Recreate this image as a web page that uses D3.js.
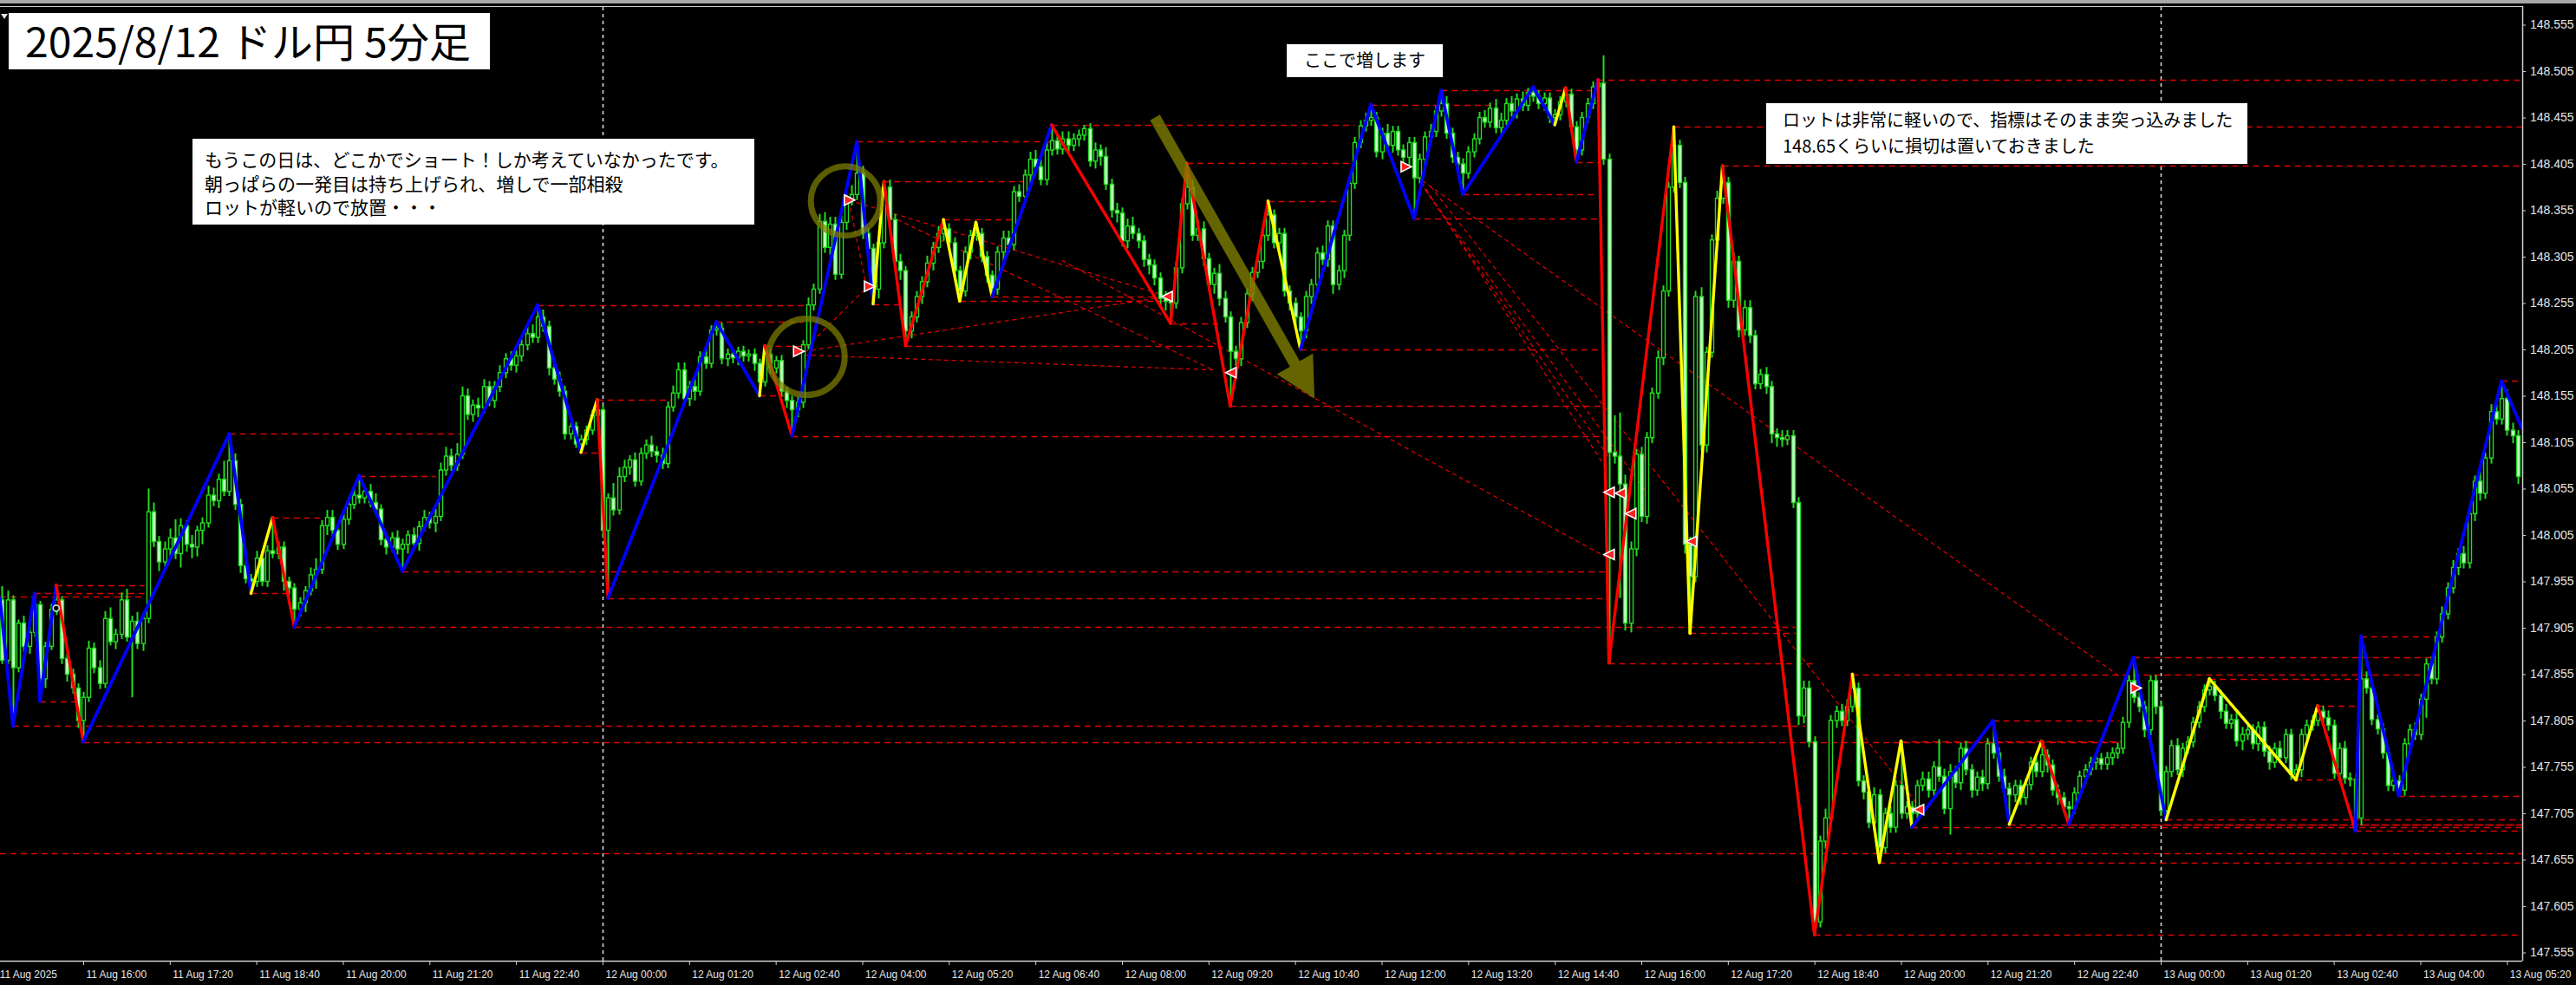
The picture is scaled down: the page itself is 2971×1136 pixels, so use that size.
<!DOCTYPE html>
<html><head><meta charset="utf-8">
<script src="https://cdn.jsdelivr.net/npm/d3@7"></script>
<style>html,body{margin:0;padding:0;background:#000;overflow:hidden}</style>
</head><body>
<svg id="c" width="2971" height="1136"></svg>
<script>
// ---------------- DATA (prices are thousandths above 147.000) ----------------
const BASE = 147.0;
const firstBar = -111;          // bar 0 = 12 Aug 00:00 (5-minute bars)
const firstOpen = 935;
const closes = [
870,935,862,910,885,900,930,850,885,925,
935,872,855,840,805,830,883,862,845,915,
890,898,935,895,912,888,915,1030,998,976,
990,1002,985,1015,995,992,1010,1018,1048,1042,
1065,1052,1085,1038,972,958,955,980,955,988,
985,992,955,948,925,932,945,962,968,1015,
1024,1010,995,1022,1038,1048,1045,1052,1040,1033,
1000,992,1002,990,995,1005,996,1014,1024,1018,
1025,1075,1090,1080,1092,1155,1135,1145,1142,1165,
1150,1165,1180,1195,1188,1198,1210,1222,1218,1240,
1230,1185,1173,1160,1114,1122,1103,1108,1118,1134,
1140,1010,1045,1032,1068,1078,1086,1063,1093,1102,
1095,1091,1082,1143,1158,1183,1152,1165,1160,1197,
1190,1226,1228,1195,1200,1196,1203,1198,1200,1190,
1170,1200,1185,1193,1160,1150,1140,1148,1210,1253,
1270,1343,1315,1340,1286,1342,1366,1372,1395,1330,
1314,1270,1320,1380,1345,1300,1290,1225,1240,1262,
1278,1298,1315,1330,1335,1320,1290,1268,1310,1328,
1330,1305,1285,1270,1310,1325,1318,1375,1370,1393,
1410,1402,1388,1420,1430,1421,1432,1425,1432,1436,
1443,1408,1420,1413,1383,1355,1352,1322,1338,1330,
1322,1302,1296,1282,1260,1257,1255,1293,1362,1380,
1328,1335,1303,1275,1287,1260,1240,1203,1195,1234,
1265,1288,1300,1328,1350,1320,1330,1268,1255,1240,
1225,1262,1275,1309,1302,1338,1275,1290,1328,1384,
1428,1446,1452,1455,1418,1438,1425,1440,1420,1412,
1428,1390,1410,1434,1440,1462,1470,1438,1412,1405,
1395,1418,1432,1455,1450,1465,1444,1452,1470,1462,
1475,1468,1482,1478,1470,1476,1455,1458,1472,1480,
1445,1420,1455,1470,1488,1492,1410,1094,1090,1060,
910,990,1092,1025,1110,1158,1196,1268,1380,1425,
1385,995,960,1262,1102,1202,1323,1368,1385,1258,
1300,1226,1250,1220,1168,1178,1165,1114,1110,1108,
1112,1040,810,840,782,588,675,700,805,815,
805,820,840,740,728,695,725,668,705,690,
735,705,712,705,735,742,730,755,745,710,
750,738,775,752,730,744,737,780,770,745,
732,725,735,722,736,760,750,768,757,730,
722,712,710,727,745,752,760,764,758,765,
770,775,803,848,830,820,795,848,820,708,
750,778,752,775,782,803,820,838,842,832,
815,802,806,783,790,795,780,798,772,760,
775,765,790,747,752,790,800,805,815,808,
800,748,775,743,742,700,850,840,806,796,
770,735,740,730,780,795,790,828,866,850,
895,920,948,970,985,975,1028,1063,1050,1088,
1138,1130,1152,1118,1112,1068];
const upWick = [
15,10,5,4,8,6,12,4,5,6, 16,4,5,6,5,6,8,6,8,8, 12,6,8,12,6,10,6,25,10,6, 8,10,20,8,6,10,5,6,10,8,
6,20,29,8,6,6,5,8,8,6, 36,6,6,5,5,6,5,8,12,6, 8,8,6,6,8,8,21,6,8,10, 5,6,6,8,6,5,8,6,8,6,
8,8,10,8,12,10,8,6,8,8, 6,6,8,6,8,6,6,8,10,13, 8,6,6,8,6,4,5,5,5,6, 11,5,5,16,10,8,5,8,6,6,
10,6,8,6,8,8,8,6,8,6, 10,5,7,6,6,6,5,6,5,6, 5,9,6,5,6,5,5,6,5,8, 6,8,10,8,8,8,6,10,34,8,
6,5,6,6,8,6,8,5,6,6, 6,8,6,8,10,6,6,5,6,6, 12,6,6,5,6,8,8,6,8,6, 8,10,8,8,17,6,8,8,6,6,
4,6,8,6,10,6,8,6,8,10, 6,6,6,6,6,8,6,6,6,26, 8,10,8,6,6,10,8,6,6,6, 6,6,6,6,15,6,6,6,6,6,
5,6,6,6,8,6,6,6,6,6, 6,6,8,14,6,6,10,6,6,6, 6,6,6,6,8,6,14,8,6,6, 6,6,6,6,8,6,10,8,6,8,
6,8,5,6,6,6,6,6,6,7, 6,6,6,6,6,4,30,6,40,47, 10,8,6,8,6,6,8,6,6,20, 6,6,8,6,10,6,6,8,18,6,
10,6,8,8,6,6,8,6,6,8, 6,6,6,8,8,6,6,10,6,6, 8,8,15,6,6,6,8,6,6,8, 6,48,6,6,6,8,8,6,30,8,
8,6,6,8,6,6,8,6,25,6, 8,6,6,6,6,6,8,15,6,6, 6,6,6,6,6,6,6,6,6,6, 6,6,6,6,25,6,6,6,6,6,
6,6,8,6,6,6,6,6,8,6, 6,8,6,8,8,6,6,6,6,6, 6,8,6,6,6,6,6,6,6,6, 8,6,6,8,6,6,46,8,6,6,
6,6,8,6,6,6,8,6,6,8, 6,8,6,8,6,8,6,6,10,6, 8,8,19,10,8,6];
const dnWick = [
4,4,63,5,6,8,5,24,10,4, 6,6,8,6,8,23,5,6,6,5, 4,8,5,5,65,6,8,5,6,10, 5,8,6,15,8,12,10,15,5,6,
8,5,5,6,8,5,13,6,5,6, 5,6,10,8,19,8,10,5,15,5, 10,8,6,5,6,5,6,6,5,6, 6,8,5,6,24,10,6,8,5,6,
10,5,6,6,6,5,6,8,10,6, 6,8,6,6,6,8,6,6,6,6, 6,8,6,6,6,6,4,9,6,5, 6,8,73,6,5,6,8,6,5,6,
6,8,6,5,5,6,6,8,10,5, 6,5,6,6,8,6,8,6,6,8, 15,5,6,6,6,8,28,8,6,5, 6,5,6,8,6,5,8,6,6,6,
8,16,10,6,6,8,10,16,8,6, 8,6,8,6,8,6,8,11,6,8, 6,6,8,8,6,10,8,6,6,6, 10,6,6,6,6,6,6,8,6,8,
6,6,8,10,6,8,10,6,8,6, 8,8,10,8,8,10,22,6,6,6, 6,6,8,6,10,8,6,59,8,8, 6,8,6,8,6,6,8,6,8,10,
20,8,8,6,6,8,10,6,8,6, 6,6,6,6,6,8,6,8,6,8, 8,44,6,6,6,6,6,6,6,8, 23,6,6,6,6,6,6,6,6,6,
8,6,6,6,6,8,6,8,6,6, 6,13,6,6,6,6,6,227,8,123, 8,10,8,6,8,6,6,8,6,6, 6,10,61,6,6,8,6,6,6,8,
8,8,6,8,6,6,8,10,10,8, 6,6,10,8,6,14,6,8,6,8, 6,6,6,6,8,6,8,16,6,6, 6,6,6,15,6,6,8,6,6,6,
28,6,8,6,8,6,8,6,6,6, 6,32,8,8,8,6,6,6,8,6, 8,6,17,6,6,8,6,8,6,6, 8,6,6,6,6,6,8,6,8,6,
10,6,6,8,6,6,6,6,6,6, 8,6,6,6,10,6,6,8,6,8, 6,6,6,6,6,8,6,6,6,6, 6,6,8,6,8,14,8,6,6,6,
6,6,6,6,6,8,6,6,20,6, 6,6,6,6,8,6,6,8,8,6, 6,6,6,6,8,8];

// zigzag pivots (bar, price) and colour class of each leg ending at that pivot
const zzBars = [-111.4,-109,-105,-104,-101,-96,-69,-65,-61,-57,-45,-37,-12,-4,-1,1,21,29,30,35,47,50,52,56,63,66,69,72,83,105,108,116,123,129,142,150,155,159,172,176,178,180,184,186,198,201,207,224,231,236,240,242,257,260,266,271,283,289,297,313,317,324,325,332,351,354.8];
const zzPrices = [937,799,942,826,951,782,1114,942,1024,906,1069,966,1253,1094,1151,937,1235,1155,1209,1112,1429,1254,1386,1209,1345,1257,1342,1262,1447,1233,1406,1144,1365,1205,1469,1346,1484,1372,1488,1447,1487,1407,1496,867,1445,899,1403,574,855,652,783,690,805,693,783,693,873,698,850,741,821,686,896,724,1171,1120];
const zzLegs = ["B","B","B","B","R","B","B","Y","R","B","B","B","B","Y","R","B","B","Y","R","B","B","Y","R","R","Y","Y","Y","B","R","R","R","R","Y","B","B","B","B","B","B","Y","R","B","R","R","Y","Y","R","R","Y","Y","Y","B","B","Y","R","B","B","Y","Y","Y","R","B","B","B","B"];

// horizontal dashed price levels
const levelPrices = [939,662,799,942,826,951,782,1114,942,1024,906,1069,966,1253,1094,1151,937,1235,1155,1209,1112,1429,1254,1386,1209,1345,1257,1262,1447,1233,1406,1144,1365,1205,1469,1346,1484,1372,1407,1496,867,1445,899,1403,574,855,652,783,690,805,693,693,873,698,850,741,821,686,896,724,1171];
const levelFrom   = [-111.4,-111.4,-109,-105,-104,-101,-96,-69,-65,-61,-57,-45,-37,-12,-4,-1,1,21,29,30,35,47,50,52,56,63,66,72,83,105,108,116,123,129,142,150,155,159,180,184,186,198,201,207,224,231,236,240,242,257,260,271,283,289,297,313,317,324,325,332,351];
const levelTo     = [-84.7,354.8,222.3,-84.7,-97,-84.7,281,-26,-58,-51.4,220.5,-30.8,185.7,37.2,0,12.7,185.7,37.2,34,39,184.5,83,55,77.7,114,75.8,104.5,104.5,139,114,138.3,184.5,136,184.5,164.3,184,184,184,184.5,354.8,224,354.8,220.5,354.8,354.8,337.2,354.8,281,354.8,280.3,354.8,354.8,338.6,354.8,324.7,324,324,354.8,338.6,354.8,354.8];

// diagonal dashed lines (bar, price) -> (bar, price)
const diagBar1   = [150.3,150.3,151.4,152.2,153,84.9,45.5,51.9,37.2,37.2,39.7,45.5];
const diagPrice1 = [1392,1392,1385,1376,1381,1301,1366,1352,1203,1199,1219,1366];
const diagBar2   = [280.3,186.2,185.7,193.1,243.4,186.2,104.5,112.8,104.5,112.8,48.2,48.9];
const diagPrice2 = [853,1087,1075,1050,712,979,1262,1183,1262,1183,1268,1269];

// trade markers
const markBars   = [36.1,45.5,49.2,104.5,116.3,148.4,186.2,188.3,190.2,186.2,201.4,243.4,283.3,-101];
const markPrices = [1203,1366,1273,1262,1180,1402,1051,1050,1028,984,998,709,840,926];
const markKinds  = ["R","R","R","L","L","R","L","L","L","L","L","L","R","D"];

const separatorBars = [0, 288];
const yTickValues = [147.555,147.605,147.655,147.705,147.755,147.805,147.855,147.905,147.955,148.005,148.055,148.105,148.155,148.205,148.255,148.305,148.355,148.405,148.455,148.505,148.555];
const xTickBars = [-112,-96,-80,-64,-48,-32,-16,0,16,32,48,64,80,96,112,128,144,160,176,192,208,224,240,256,272,288,304,320,336,352];
const xTickLabels = ["11 Aug 2025","11 Aug 16:00","11 Aug 17:20","11 Aug 18:40","11 Aug 20:00","11 Aug 21:20","11 Aug 22:40","12 Aug 00:00","12 Aug 01:20","12 Aug 02:40","12 Aug 04:00","12 Aug 05:20","12 Aug 06:40","12 Aug 08:00","12 Aug 09:20","12 Aug 10:40","12 Aug 12:00","12 Aug 13:20","12 Aug 14:40","12 Aug 16:00","12 Aug 17:20","12 Aug 18:40","12 Aug 20:00","12 Aug 21:20","12 Aug 22:40","13 Aug 00:00","13 Aug 01:20","13 Aug 02:40","13 Aug 04:00","13 Aug 05:20"];

const titleText = "2025/8/12 ドル円 5分足";
const note1 = ["もうこの日は、どこかでショート！しか考えていなかったです。","朝っぱらの一発目は持ち上げられ、増しで一部相殺","ロットが軽いので放置・・・"];
const note2 = "ここで増します";
const note3 = ["ロットは非常に軽いので、指標はそのまま突っ込みました","148.65くらいに損切は置いておきました"];

// ---------------- DRAWING ----------------
const W = 2971, H = 1136, plotRight = 2909, plotTop = 8, plotBottom = 1108;
const P = v => BASE + v / 1000;
const x = d3.scaleLinear().domain([0, 288]).range([695, 2492]);
const y = d3.scaleLinear().domain([147.555, 148.505]).range([1098.5, 82]);
const legColor = {B: "#0000ff", R: "#ff0000", Y: "#ffff00"};
const lime = "#22dc22";

const svg = d3.select("#c");
svg.append("rect").attr("width", W).attr("height", H).attr("fill", "#000");
svg.append("rect").attr("x", 0).attr("y", 0).attr("width", W).attr("height", 4).attr("fill", "#a8a8a8");
svg.append("defs").append("clipPath").attr("id", "plot")
  .append("rect").attr("x", 0).attr("y", plotTop).attr("width", plotRight).attr("height", plotBottom - plotTop);

const g = svg.append("g").attr("clip-path", "url(#plot)");

// period separators
g.selectAll(".sep").data(separatorBars).join("line")
  .attr("x1", d => Math.round(x(d)) + 0.5).attr("x2", d => Math.round(x(d)) + 0.5)
  .attr("y1", plotTop).attr("y2", plotBottom)
  .attr("stroke", "#d8d8d8").attr("stroke-width", 1.6).attr("stroke-dasharray", "4,4");

// horizontal levels
g.selectAll(".lvl").data(levelPrices.map((p, k) => ({p, a: levelFrom[k], b: levelTo[k]}))).join("line")
  .attr("x1", d => x(d.a)).attr("x2", d => x(d.b))
  .attr("y1", d => Math.round(y(P(d.p))) + 0.5).attr("y2", d => Math.round(y(P(d.p))) + 0.5)
  .attr("stroke", "#e00000").attr("stroke-width", 1.6).attr("stroke-dasharray", "7,5");

// diagonal lines
g.selectAll(".dg").data(diagBar1.map((b, k) => ({b1: b, p1: diagPrice1[k], b2: diagBar2[k], p2: diagPrice2[k]}))).join("line")
  .attr("x1", d => x(d.b1)).attr("y1", d => y(P(d.p1)))
  .attr("x2", d => x(d.b2)).attr("y2", d => y(P(d.p2)))
  .attr("stroke", "#d80000").attr("stroke-width", 1.3).attr("stroke-dasharray", "5,4");

// candles
const candles = closes.map((c, k) => {
  const o = k === 0 ? firstOpen : closes[k - 1];
  return {i: firstBar + k, o, c, h: Math.max(o, c) + upWick[k], l: Math.min(o, c) - dnWick[k]};
});
zzBars.forEach((b, j) => {
  if (!Number.isInteger(b)) return;
  const cd = candles[b - firstBar]; if (!cd) return;
  const p = zzPrices[j];
  if (p >= Math.max(cd.o, cd.c)) cd.h = p; else if (p <= Math.min(cd.o, cd.c)) cd.l = p;
});
const cg = g.append("g");
cg.selectAll(".wk").data(candles).join("line")
  .attr("x1", d => Math.round(x(d.i)) + 0.5).attr("x2", d => Math.round(x(d.i)) + 0.5)
  .attr("y1", d => y(P(d.h))).attr("y2", d => y(P(d.l)))
  .attr("stroke", lime).attr("stroke-width", 2);
cg.selectAll(".bd").data(candles).join("rect")
  .attr("x", d => Math.round(x(d.i)) - 1.5).attr("width", 4)
  .attr("y", d => y(P(Math.max(d.o, d.c))))
  .attr("height", d => Math.max(1, Math.abs(y(P(d.o)) - y(P(d.c)))))
  .attr("fill", d => d.c < d.o ? "#ccffcc" : "#000")
  .attr("stroke", lime).attr("stroke-width", 1.4);

// zigzag
const legs = zzLegs.map((k, j) => ({k, b1: zzBars[j], p1: zzPrices[j], b2: zzBars[j + 1], p2: zzPrices[j + 1]}));
g.selectAll(".zz").data(legs).join("line")
  .attr("x1", d => x(d.b1)).attr("y1", d => y(P(d.p1)))
  .attr("x2", d => x(d.b2)).attr("y2", d => y(P(d.p2)))
  .attr("stroke", d => legColor[d.k]).attr("stroke-width", d => d.k === "B" ? 3.8 : 3.4)
  .attr("stroke-linecap", "round");

// markers
const mk = g.selectAll(".mk").data(markBars.map((b, k) => ({b, p: markPrices[k], t: markKinds[k]}))).join("g")
  .attr("transform", d => `translate(${x(d.b)},${y(P(d.p))})`);
mk.filter(d => d.t === "L").append("path").attr("d", "M-7,0L5,-6L5,6Z")
  .attr("fill", "#ff2020").attr("stroke", "#fff").attr("stroke-width", 1.6);
mk.filter(d => d.t === "R").append("path").attr("d", "M7,0L-5,-6L-5,6Z")
  .attr("fill", "#ff2020").attr("stroke", "#fff").attr("stroke-width", 1.6);
mk.filter(d => d.t === "D").append("circle").attr("r", 3.5)
  .attr("fill", "#000").attr("stroke", "#c8ffc8").attr("stroke-width", 1.5);

// olive circles and arrow (semi-transparent olive)
[[44.9, 1365, 40], [37.7, 1197, 44]].forEach(([b, p, r]) => {
  g.append("circle").attr("cx", x(b)).attr("cy", y(P(p))).attr("r", r)
    .attr("fill", "none").attr("stroke", "#808000").attr("stroke-opacity", 0.72).attr("stroke-width", 7);
});
(function () {
  const x1 = x(102.1), y1 = y(P(1455)), x2 = x(131.6), y2 = y(P(1152));
  const dx = x2 - x1, dy = y2 - y1, L = Math.hypot(dx, dy), ux = dx / L, uy = dy / L;
  const hl = 46, hw = 24, bx = x2 - ux * hl, by = y2 - uy * hl, sw = 6.5;
  g.append("path").attr("d",
    `M${x1 - uy * sw},${y1 + ux * sw}L${bx - uy * sw},${by + ux * sw}L${bx - uy * hw},${by + ux * hw}` +
    `L${x2},${y2}L${bx + uy * hw},${by - ux * hw}L${bx + uy * sw},${by - ux * sw}L${x1 + uy * sw},${y1 - ux * sw}Z`)
    .attr("fill", "#808000").attr("fill-opacity", 0.78);
})();

// frame
svg.append("line").attr("x1", 0).attr("x2", plotRight).attr("y1", plotTop - 0.5).attr("y2", plotTop - 0.5).attr("stroke", "#cfcfcf");
svg.append("line").attr("x1", plotRight + 0.5).attr("x2", plotRight + 0.5).attr("y1", plotTop - 1).attr("y2", plotBottom).attr("stroke", "#d0d0d0").attr("stroke-width", 1.5);
svg.append("line").attr("x1", 0).attr("x2", plotRight).attr("y1", plotBottom + 0.5).attr("y2", plotBottom + 0.5).attr("stroke", "#d0d0d0").attr("stroke-width", 1.5);
svg.append("path").attr("d", "M1,16L9,16L5,22Z").attr("fill", "#e0e0e0");

// y axis
const ya = svg.append("g").attr("transform", `translate(${plotRight},0)`)
  .call(d3.axisRight(y).tickValues(yTickValues).tickFormat(d3.format(".3f")).tickSize(4).tickPadding(5));
ya.select(".domain").remove();
ya.selectAll(".tick line").attr("stroke", "#d0d0d0");
ya.selectAll(".tick text").attr("fill", "#e6e6e6").attr("font-family", "Liberation Sans, Arial, sans-serif").attr("font-size", 14);

// x axis
const xa = svg.append("g").attr("transform", `translate(0,${plotBottom})`)
  .call(d3.axisBottom(x).tickValues(xTickBars).tickFormat((d, k) => xTickLabels[k]).tickSize(5).tickPadding(6));
xa.select(".domain").remove();
xa.selectAll(".tick line").attr("stroke", "#d0d0d0");
xa.selectAll(".tick text").attr("fill", "#e6e6e6").attr("text-anchor", "start").attr("dx", 3)
  .attr("font-family", "Liberation Sans, Arial, sans-serif").attr("font-size", 13)
  .each(function () { const w = this.getComputedTextLength(); d3.select(this).attr("textLength", w * 0.92).attr("lengthAdjust", "spacingAndGlyphs"); });

// annotation boxes
const jp = "Noto Sans CJK JP, sans-serif";
svg.append("rect").attr("x", 10).attr("y", 15).attr("width", 555).attr("height", 65).attr("fill", "#fff");
svg.append("text").attr("x", 29).attr("y", 66).attr("font-family", jp).attr("font-size", 47).attr("fill", "#000")
  .attr("textLength", 514).attr("lengthAdjust", "spacingAndGlyphs").text(titleText);

svg.append("rect").attr("x", 222).attr("y", 160).attr("width", 648).attr("height", 99).attr("fill", "#fff");
note1.forEach((t, k) => svg.append("text").attr("x", 236).attr("y", 192 + k * 27.5)
  .attr("font-family", jp).attr("font-size", 21).attr("fill", "#000").text(t));

svg.append("rect").attr("x", 1484).attr("y", 51).attr("width", 180).attr("height", 38).attr("fill", "#fff");
svg.append("text").attr("x", 1574).attr("y", 77).attr("text-anchor", "middle")
  .attr("font-family", jp).attr("font-size", 20).attr("fill", "#000").text(note2);

svg.append("rect").attr("x", 2037).attr("y", 119).attr("width", 555).attr("height", 70).attr("fill", "#fff");
note3.forEach((t, k) => svg.append("text").attr("x", 2056).attr("y", 146 + k * 30)
  .attr("font-family", jp).attr("font-size", 20).attr("fill", "#000").text(t));
</script>
</body></html>
